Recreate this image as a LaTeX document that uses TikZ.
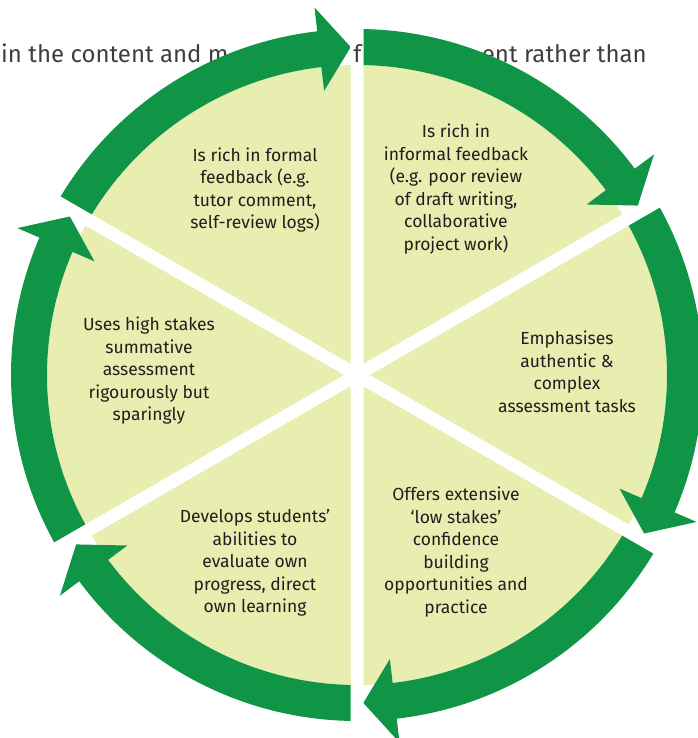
\documentclass[tikz,border=0pt]{standalone}
\usepackage{fontspec}
\setmainfont{Fira Sans}
\usepackage{xcolor}
\usepackage{tikz}
\usetikzlibrary{positioning}
\definecolor{ringgreen}{RGB}{16,148,70}
\definecolor{piegreen}{RGB}{232,238,176}
\definecolor{inkgrey}{RGB}{62,62,62}

\begin{document}
\begin{tikzpicture}[
  label/.style={align=center,text=black!88,font=\fontsize{17.5}{22.5}\selectfont},
  backtext/.style={text=inkgrey,font=\fontsize{24}{28}\selectfont,inner sep=0pt}]
\useasboundingbox (-357pt,-363pt) rectangle (340pt,375pt);
\def\headend{53.4}
\def\tipend{58.9}
  % the line of text behind the wheel
  \node[backtext,anchor=base west] (textleft) at (-356pt,312pt) {in the content and m};
  \node[backtext,anchor=base east] (textright) at (290pt,312pt) {ent rather than};
  \node[backtext,anchor=base] (textmid) at (0.5pt,312pt) {f};
  % six sectors, each with its arrow
  \foreach \s in {90,30,-30,-90,-150,-210}{
    \begin{scope}
      \clip (\s-30:13pt) -- +(\s:450pt) -- +(\s-60:450pt) -- cycle;
      \fill[piegreen] (0,0) circle (310pt);
      \fill[ringgreen] (\s:346pt) arc[start angle=\s, end angle=\s-\headend, radius=346pt]
        -- (\s-\headend:370pt) -- (\s-\tipend:328pt) -- (\s-\headend:286pt)
        -- (\s-\headend:310pt) arc[start angle=\s-\headend, end angle=\s, radius=310pt] -- cycle;
    \end{scope}
  }
  \node[label] (formal) at (-102pt,185pt) {Is rich in formal\\feedback (e.g.\\tutor comment,\\self-review logs)};
  \node[label] (informal) at (99pt,186pt) {Is rich in\\informal feedback\\(e.g. poor review\\of draft writing,\\collaborative\\project work)};
  \node[label] (authentic) at (210pt,3pt) {Emphasises\\authentic \&\\complex\\assessment tasks};
  \node[label] (lowstakes) at (99pt,-177pt) {Offers extensive\\‘low stakes’\\confidence\\building\\opportunities and\\practice};
  \node[label] (selfeval) at (-102pt,-188pt) {Develops students’\\abilities to\\evaluate own\\progress, direct\\own learning};
  \node[label] (highstakes) at (-208pt,4pt) {Uses high stakes\\summative\\assessment\\rigourously but\\sparingly};
\end{tikzpicture}
\end{document}
